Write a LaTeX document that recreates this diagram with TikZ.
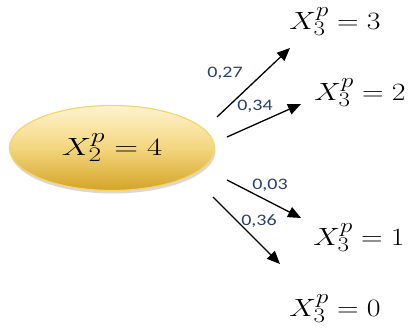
\documentclass[tikz,border=0pt]{standalone}
\usepackage{fontspec}
\newfontfamily\labfont{Carlito}
\usetikzlibrary{arrows.meta,shadows,shapes.geometric}
\definecolor{elltop}{HTML}{FEF3CF}
\definecolor{ellmid}{HTML}{F4D67E}
\definecolor{ellbot}{HTML}{D3A427}
\definecolor{ellborder}{HTML}{F7D568}
\definecolor{labcol}{HTML}{2A3F6E}
\tikzset{
  ellnode/.style={ellipse, minimum width=205pt, minimum height=85pt, draw=ellborder, line width=1.2pt,
    top color=elltop, bottom color=ellbot, middle color=ellmid,
    drop shadow={shadow xshift=1pt, shadow yshift=-3pt, fill=black!30, opacity=0.5}},
  valnode/.style={inner sep=0pt, font=\fontsize{28}{30}\selectfont, xscale=1.2},
  probarrow/.style={line width=1.3pt, -{Triangle[length=13pt,width=11pt]}},
  problab/.style={inner sep=0pt, text=labcol, font=\labfont\fontsize{16}{18}\selectfont, xscale=1.25},
}
\begin{document}
\begin{tikzpicture}[x=1pt,y=-1pt]
\useasboundingbox (0,0) rectangle (411,336);
\node[ellnode] (root) at (112,148) {};
\node[valnode, font=\fontsize{30}{32}\selectfont, xscale=1.1] (roottext) at (root.center) {$X_2^p = 4$};
\node[valnode] (v3) at (335,22) {$X_3^p = 3$};
\node[valnode] (v2) at (360,93) {$X_3^p = 2$};
\node[valnode] (v1) at (359,238) {$X_3^p = 1$};
\node[valnode] (v0) at (335,309) {$X_3^p = 0$};
\coordinate (s3) at (217,117);
\coordinate (t3) at (290,48);
\coordinate (s2) at (227,137);
\coordinate (t2) at (301,104);
\coordinate (s1) at (227,180);
\coordinate (t1) at (301,218);
\coordinate (s0) at (213,197);
\coordinate (t0) at (280,264);
\draw[probarrow] (s3) -- (t3);
\draw[probarrow] (s2) -- (t2);
\draw[probarrow] (s1) -- (t1);
\draw[probarrow] (s0) -- (t0);
\node[problab] (l3) at (225,73) {0,27};
\node[problab] (l2) at (255,106) {0,34};
\node[problab] (l1) at (270,185) {0,03};
\node[problab] (l0) at (259,221) {0,36};
\end{tikzpicture}
\end{document}
